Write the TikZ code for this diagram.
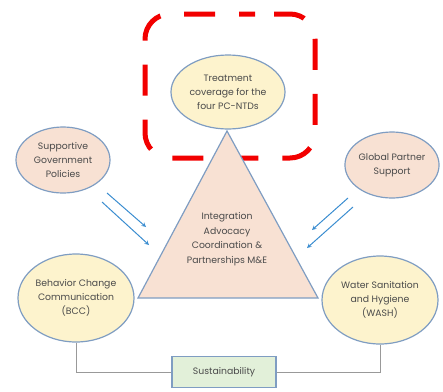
\documentclass[tikz,border=0pt]{standalone}
\usepackage{fontspec}
\setmainfont{Poppins}
\usetikzlibrary{shapes.geometric}
\definecolor{peach}{HTML}{F8E1D3}
\definecolor{cream}{HTML}{FDF3CD}
\definecolor{mint}{HTML}{E2F0D9}
\definecolor{rim}{HTML}{7F9DC2}
\definecolor{arrowblue}{HTML}{3B8DD0}
\definecolor{textgray}{HTML}{4A4A4A}
\definecolor{alertred}{HTML}{F20000}

\begin{document}
\begin{tikzpicture}[x=1pt,y=-1pt,
		oval/.style={ellipse, draw=rim, line width=1.2pt, inner sep=0pt, text=textgray,
			align=center, font=\fontsize{9.3}{14}\selectfont},
		push/.style={->, >=stealth, arrowblue, line width=1pt},
		link/.style={draw=gray!80, line width=1pt}
	]
	\useasboundingbox (0,0) rectangle (443,391);
	
	% focus frame
	\draw [alertred, line width=5pt, rounded corners=25pt, dash pattern=on 31pt off 24pt, dash phase=36pt]
		(230,14) -- (315,14) -- (315,158) -- (145,158) -- (145,14) -- cycle;
	
	\node [oval, fill=cream, minimum width=114pt, minimum height=74pt] (goal) at (228,92)
		{Treatment\\coverage for the\\four PC-NTDs};
	
	% central triangle
	\draw [fill=peach, draw=rim, line width=1.2pt] (227,131) -- (318,298) -- (138,298) -- cycle;
	\node [text=textgray, align=center, font=\fontsize{9.3}{14.5}\selectfont] (hub) at (227,239)
		{Integration\\Advocacy\\Coordination \&\\Partnerships M\&E};
	
	\node [oval, fill=peach, minimum width=94pt, minimum height=66pt] (gov) at (63,160)
		{Supportive\\Government\\Policies};
	\node [oval, fill=peach, minimum width=92pt, minimum height=66pt] (partner) at (392,165)
		{Global Partner\\Support};
	\node [oval, fill=cream, minimum width=116pt, minimum height=88pt] (bcc) at (76,298)
		{Behavior Change\\Communication\\(BCC)};
	\node [oval, fill=cream, minimum width=116pt, minimum height=88pt] (wash) at (380,300)
		{Water Sanitation\\and Hygiene\\(WASH)};
	\node [draw=rim, fill=mint, line width=1.2pt, text=textgray, minimum width=104pt, minimum height=31pt,
		font=\fontsize{9.3}{14}\selectfont] (sus) at (224,372) {Sustainability};
	
	\draw [link] (bcc.south) |- (sus.west);
	\draw [link] (wash.south) |- (sus.east);
	
	% blue arrows
	\coordinate (l1s) at (107,193); \coordinate (l1e) at (146,227);
	\coordinate (l2s) at (102,202); \coordinate (l2e) at (149,245);
	\coordinate (r1s) at (348,198); \coordinate (r1e) at (312,230);
	\coordinate (r2s) at (353,207); \coordinate (r2e) at (307,248);
	\draw [push] (l1s) -- (l1e);
	\draw [push] (l2s) -- (l2e);
	\draw [push] (r1s) -- (r1e);
	\draw [push] (r2s) -- (r2e);
\end{tikzpicture}
\end{document}
